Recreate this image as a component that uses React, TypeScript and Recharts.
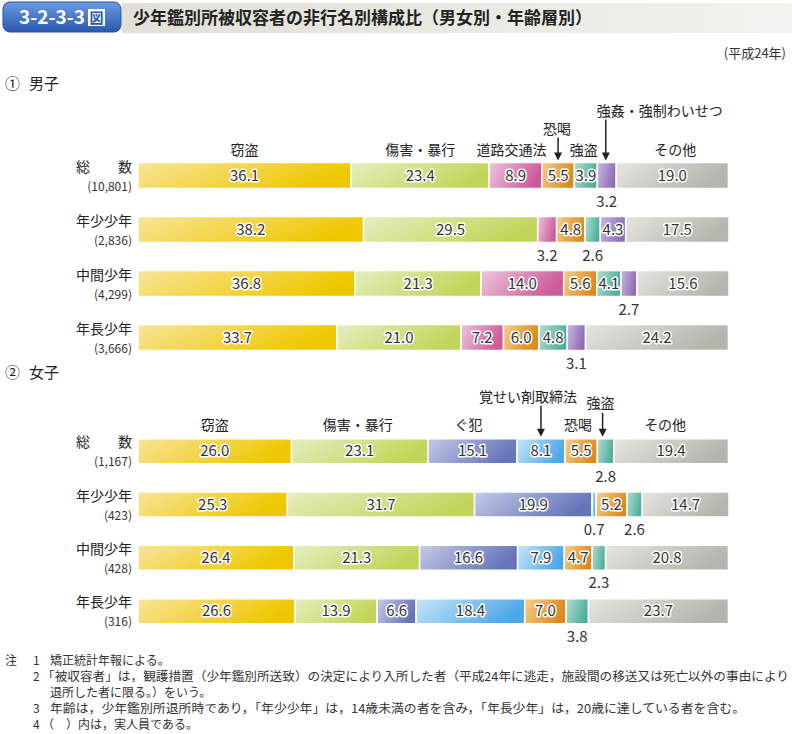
import React from 'react';
import { BarChart, Bar, XAxis, YAxis, LabelList } from 'recharts';

// row labels and counts
const ageRows = ['総　　数', '年少少年', '中間少年', '年長少年'];
const maleCounts = ['(10,801)', '(2,836)', '(4,299)', '(3,666)'];
const femaleCounts = ['(1,167)', '(423)', '(428)', '(316)'];

// male (%)
const maleOffences = ['窃盗', '傷害・暴行', '道路交通法', '恐喝', '強盗', '強姦・強制わいせつ', 'その他'];
const maleTheft = [36.1, 38.2, 36.8, 33.7];
const maleAssault = [23.4, 29.5, 21.3, 21.0];
const maleTraffic = [8.9, 3.2, 14.0, 7.2];
const maleExtortion = [5.5, 4.8, 5.6, 6.0];
const maleRobbery = [3.9, 2.6, 4.1, 4.8];
const maleSexual = [3.2, 4.3, 2.7, 3.1];
const maleOther = [19.0, 17.5, 15.6, 24.2];

// female (%)
const femaleOffences = ['窃盗', '傷害・暴行', 'ぐ犯', '覚せい剤取締法', '恐喝', '強盗', 'その他'];
const femaleTheft = [26.0, 25.3, 26.4, 26.6];
const femaleAssault = [23.1, 31.7, 21.3, 13.9];
const femaleUncontrollable = [15.1, 19.9, 16.6, 6.6];
const femaleStimulants = [8.1, 0.7, 7.9, 18.4];
const femaleExtortion = [5.5, 5.2, 4.7, 7.0];
const femaleRobbery = [2.8, 2.6, 2.3, 3.8];
const femaleOther = [19.4, 14.7, 20.8, 23.7];

const palette: Record<string, [string, string]> = {
  '窃盗': ['#f8e59c', '#efc700'],
  '傷害・暴行': ['#e6eebf', '#c2d55a'],
  '道路交通法': ['#eec6dc', '#cd5a9b'],
  '恐喝': ['#f3cf8c', '#df891c'],
  '強盗': ['#b5ded3', '#4dad9a'],
  '強姦・強制わいせつ': ['#cbb9df', '#8d6bb7'],
  'その他': ['#e6e6e0', '#b4b5ad'],
  'ぐ犯': ['#c6cbe7', '#6575ba'],
  '覚せい剤取締法': ['#c8e6f9', '#4ea8e8'],
};

type Head = { dx: number; dy: number; arrow?: number; ax?: number };

// header label placement relative to the top of the first bar
const maleHeads: Head[] = [
  { dx: 0, dy: -8 },
  { dx: 0, dy: -8 },
  { dx: -4, dy: -8 },
  { dx: -1, dy: -29, arrow: -25 },
  { dx: -2, dy: -8 },
  { dx: 53, dy: -47, arrow: -43, ax: -1 },
  { dx: 3, dy: -8 },
];
const femaleHeads: Head[] = [
  { dx: 0, dy: -9 },
  { dx: -2, dy: -9 },
  { dx: -4, dy: -9 },
  { dx: -13, dy: -37, arrow: -33 },
  { dx: -3, dy: -9 },
  { dx: -5, dy: -31, arrow: -26, ax: -3 },
  { dx: -6, dy: -9 },
];

const FONT = '"Noto Sans CJK JP", "Noto Sans", sans-serif';
const INSIDE_MIN = 3.85;

function box(props: any) {
  const vb = props.viewBox || props;
  return { x: Number(vb.x), y: Number(vb.y), w: Number(vb.width), h: Number(vb.height) };
}

const renderValue = (props: any) => {
  const { x, y, w, h } = box(props);
  const v = Number(props.value);
  if (!isFinite(v)) return null;
  const inside = v >= INSIDE_MIN;
  return (
    <text
      x={x + w / 2}
      y={inside ? y + h / 2 + 5 : y + h + 18}
      textAnchor="middle"
      fontSize={15}
      fontFamily={FONT}
      fill="#333"
      stroke={inside ? '#fff' : 'none'}
      strokeWidth={3}
      strokeLinejoin="round"
      paintOrder="stroke"
    >
      {v.toFixed(1)}
    </text>
  );
};

const makeHead = (name: string, hd: Head) => (props: any) => {
  if (!props.value) return null;
  const { x, y, w } = box(props);
  const cx = x + w / 2;
  const axX = cx + (hd.ax || 0);
  return (
    <g>
      <text x={cx + hd.dx} y={y + hd.dy} textAnchor="middle" fontSize={14} fontFamily={FONT} fill="#222">
        {name}
      </text>
      {hd.arrow != null && (
        <g>
          <line x1={axX} x2={axX} y1={y + hd.arrow} y2={y - 8} stroke="#222" strokeWidth={1.5} />
          <path d={`M${axX - 4},${y - 10} L${axX + 4},${y - 10} L${axX},${y - 2} Z`} fill="#222" />
        </g>
      )}
    </g>
  );
};

const RowTick = (props: any) => {
  const { x, y, payload, counts } = props;
  return (
    <g>
      <text x={x + 2} y={y - 4} textAnchor="end" fontSize={14} fontFamily={FONT} fill="#222">
        {payload.value}
      </text>
      <text x={x + 2} y={y + 15} textAnchor="end" fontSize={12} fontFamily={FONT} fill="#333">
        {counts[payload.index]}
      </text>
    </g>
  );
};

type ChartProps = {
  id: string;
  counts: string[];
  offences: string[];
  series: number[][];
  heads: Head[];
  top: number;
  height: number;
  marginTop: number;
  marginBottom: number;
  barSize: number;
};

function StackChart({ id, counts, offences, series, heads, top, height, marginTop, marginBottom, barSize }: ChartProps) {
  const data = ageRows.map((name, i) => {
    const row: any = { name };
    series.forEach((s, k) => {
      row['s' + k] = s[i];
    });
    return row;
  });

  return (
    <div style={{ position: 'absolute', left: 0, top }}>
      <BarChart
        width={792}
        height={height}
        data={data}
        layout="vertical"
        margin={{ top: marginTop, right: 63, bottom: marginBottom, left: 8 }}
      >
        <defs>
          {offences.map((o, k) => (
            <linearGradient key={o} id={`${id}-g${k}`} x1="0" y1="0" x2="1" y2="0.3">
              <stop offset="0%" stopColor={palette[o][0]} />
              <stop offset="100%" stopColor={palette[o][1]} />
            </linearGradient>
          ))}
        </defs>
        <XAxis type="number" domain={[0, 100]} hide />
        <YAxis
          type="category"
          dataKey="name"
          width={130}
          axisLine={false}
          tickLine={false}
          interval={0}
          tick={<RowTick counts={counts} />}
        />
        {offences.map((o, k) => (
          <Bar
            key={o}
            dataKey={'s' + k}
            stackId="a"
            fill={`url(#${id}-g${k})`}
            stroke="#fff"
            strokeWidth={1.5}
            barSize={barSize}
            isAnimationActive={false}
          >
            <LabelList dataKey={'s' + k} content={renderValue} />
            <LabelList valueAccessor={(_e: any, i: number) => (i === 0 ? o : '')} content={makeHead(o, heads[k])} />
          </Bar>
        ))}
      </BarChart>
    </div>
  );
}

export default function App() {
  return (
    <div
      style={{
        position: 'fixed',
        left: 0,
        top: 0,
        width: 792,
        height: 734,
        background: '#fff',
        overflow: 'hidden',
        fontFamily: FONT,
      }}
    >
      <svg width={792} height={734} style={{ position: 'absolute', left: 0, top: 0 }} fontFamily={FONT}>
        <defs>
          <linearGradient id="badge" x1="0" y1="0" x2="0" y2="1">
            <stop offset="0%" stopColor="#6b9be0" />
            <stop offset="100%" stopColor="#2a58ad" />
          </linearGradient>
          <linearGradient id="titlebar" x1="0" y1="0" x2="1" y2="0">
            <stop offset="0%" stopColor="#e0e0d8" />
            <stop offset="100%" stopColor="#f3f3ef" />
          </linearGradient>
        </defs>
        <rect x={122} y={3} width={670} height={30} fill="url(#titlebar)" />
        <rect x={3} y={2} width={118} height={30} rx={7} fill="url(#badge)" stroke="#24509e" />
        <text x={19} y={24} fontSize={19} fontWeight="bold" fill="#fff" textLength={66} lengthAdjust="spacingAndGlyphs">
          3-2-3-3
        </text>
        <rect x={88} y={9} width={17} height={17} fill="#fff" />
        <text x={96.5} y={23} textAnchor="middle" fontSize={14} fontWeight="bold" fill="#2a58ad">図</text>
        <text x={133} y={24} fontSize={17} fontWeight="bold" fill="#222">
          少年鑑別所被収容者の非行名別構成比（男女別・年齢層別）
        </text>
        <text x={786} y={58} textAnchor="end" fontSize={13} fill="#333">(平成24年)</text>

        <text x={5} y={89} fontSize={15} fill="#222">①</text>
        <text x={29} y={89} fontSize={15} fill="#222">男子</text>
        <text x={5} y={378} fontSize={15} fill="#222">②</text>
        <text x={29} y={378} fontSize={15} fill="#222">女子</text>

        <g fontSize={12} fill="#333">
          <text x={5} y={665}>注</text>
          <text x={33} y={665}>1</text>
          <text x={50} y={665}>矯正統計年報による。</text>
          <text x={33} y={681}>2</text>
          <text x={42} y={681} textLength={747} lengthAdjust="spacingAndGlyphs">
            「被収容者」は，観護措置（少年鑑別所送致）の決定により入所した者（平成24年に逃走，施設間の移送又は死亡以外の事由により
          </text>
          <text x={50} y={697}>退所した者に限る。）をいう。</text>
          <text x={33} y={713}>3</text>
          <text x={50} y={713} textLength={695} lengthAdjust="spacingAndGlyphs">
            年齢は，少年鑑別所退所時であり，「年少少年」は，14歳未満の者を含み，「年長少年」は，20歳に達している者を含む。
          </text>
          <text x={33} y={729}>4</text>
          <text x={42} y={729}>（　）内は，実人員である。</text>
        </g>
      </svg>

      <StackChart
        id="m"
        counts={maleCounts}
        offences={maleOffences}
        series={[maleTheft, maleAssault, maleTraffic, maleExtortion, maleRobbery, maleSexual, maleOther]}
        heads={maleHeads}
        top={90}
        height={290}
        marginTop={58.5}
        marginBottom={15.5}
        barSize={26}
      />
      <StackChart
        id="f"
        counts={femaleCounts}
        offences={femaleOffences}
        series={[
          femaleTheft,
          femaleAssault,
          femaleUncontrollable,
          femaleStimulants,
          femaleExtortion,
          femaleRobbery,
          femaleOther,
        ]}
        heads={femaleHeads}
        top={380}
        height={280}
        marginTop={44.7}
        marginBottom={22}
        barSize={25}
      />
    </div>
  );
}
